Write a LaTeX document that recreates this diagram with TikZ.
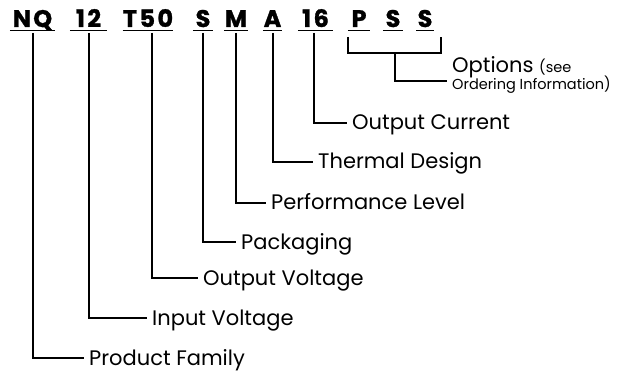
\documentclass[tikz,border=0pt]{standalone}
\usepackage{fontspec}
\setmainfont{Poppins}
\usetikzlibrary{calc}
\newcommand{\codefont}{\fontsize{24}{26}\selectfont\bfseries\addfontfeatures{FakeBold=1.2,LetterSpace=10}}
\begin{document}
\begin{tikzpicture}[x=1pt,y=-1pt,
  code/.style={font=\codefont, anchor=base, inner sep=0pt, text depth=0pt},
  lab/.style={font=\fontsize{21}{24}\selectfont, anchor=west, inner xsep=5pt, inner ysep=0pt, text height=14pt, text depth=0pt},
  small/.style={font=\fontsize{21}{24}\selectfont, anchor=base west, inner xsep=5pt, inner ysep=0pt},
  conn/.style={line width=2pt},
  uline/.style={line width=1.2pt}]
\useasboundingbox (0,0) rectangle (631,371);
% code segments
\node[code, minimum width=45pt] (nq)  at (32.5,27)  {NQ};
\node[code, minimum width=37pt] (c12) at (88.5,27)  {12};
\node[code, minimum width=50pt] (t50) at (148,27)   {T50};
\node[code, minimum width=20pt] (s1)  at (203,27)   {S};
\node[code, minimum width=24pt] (m)   at (236,27)   {M};
\node[code, minimum width=19pt] (a)   at (272.5,27) {A};
\node[code, minimum width=35pt] (c16) at (315.5,27) {16};
\node[code, minimum width=22pt] (p)   at (359,27)   {P};
\node[code, minimum width=20pt] (s2)  at (393,27)   {S};
\node[code, minimum width=17pt] (s3)  at (425,27)   {S};
\foreach \n in {nq,c12,t50,s1,m,a,c16,p,s2,s3}
  \draw[uline] ([yshift=-3.5pt]\n.base west) -- ([yshift=-3.5pt]\n.base east);
% labels
\node[lab] (pf)   at (84,358)  {Product Family};
\node[lab] (iv)   at (147,318) {Input Voltage};
\node[lab] (ov)   at (198,278) {Output Voltage};
\node[lab] (pk)   at (236,242) {Packaging};
\node[lab] (pl)   at (266,203) {Performance Level};
\node[lab] (td)   at (313,162) {Thermal Design};
\node[lab] (oc)   at (347,123) {Output Current};
\node[small] (op1) at (447,73) {Options {\fontsize{14.5}{16}\selectfont (see}};
\node[small, font=\fontsize{14.5}{16}\selectfont] (op2) at (447,90) {Ordering Information)};
% connectors
\draw[conn] ([yshift=-6pt]nq.base) |- (pf.west);
\draw[conn] ([yshift=-6pt]c12.base) |- (iv.west);
\draw[conn] ([xshift=4pt,yshift=-6pt]t50.base) |- (ov.west);
\draw[conn] ([yshift=-6pt]s1.base) |- (pk.west);
\draw[conn] ([yshift=-6pt]m.base) |- (pl.west);
\draw[conn] ([yshift=-6pt]a.base) |- (td.west);
\draw[conn] ([xshift=-1.5pt,yshift=-6pt]c16.base) |- (oc.west);
% options bracket
\coordinate (bl) at (348,37);
\coordinate (br) at (441,37);
\coordinate (bm) at (395,53);
\draw[conn] (bl) |- (bm) -| (br);
\draw[conn] (bm) |- ($(op1.base west)!0.5!(op2.base west)$);
\end{tikzpicture}
\end{document}
